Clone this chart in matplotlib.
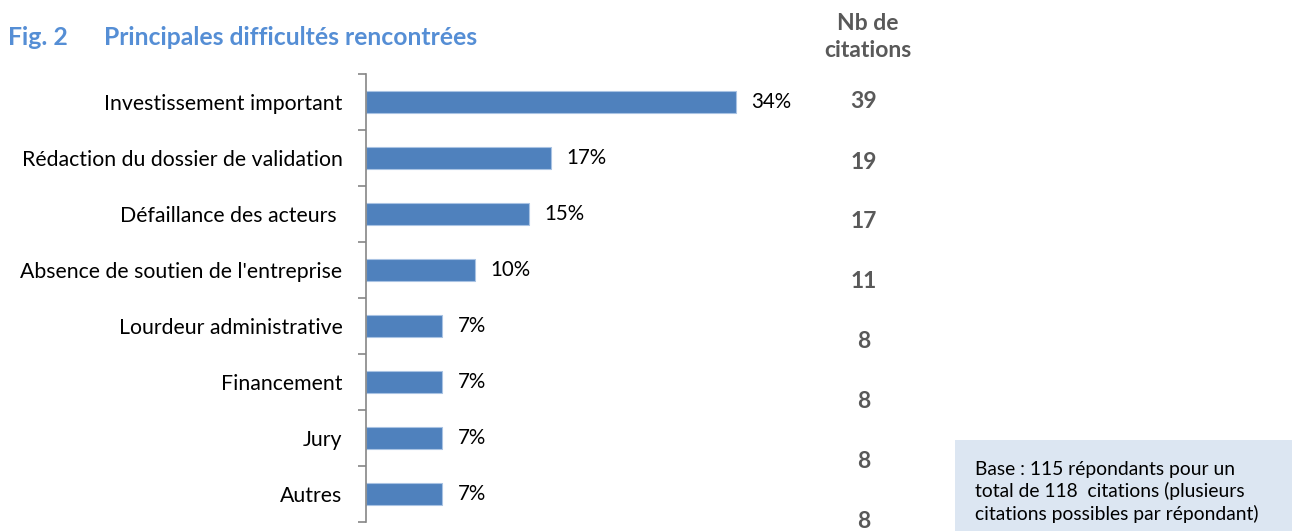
import matplotlib.pyplot as plt
from matplotlib.patches import Rectangle

categories = [
    "Investissement important",
    "Rédaction du dossier de validation",
    "Défaillance des acteurs ",
    "Absence de soutien de l'entreprise",
    "Lourdeur administrative",
    "Financement",
    "Jury",
    "Autres",
]
percent = [34, 17, 15, 10, 7, 7, 7, 7]
citations = [39, 19, 17, 11, 8, 8, 8, 8]

plt.rcParams['font.family'] = ['Lato', 'DejaVu Sans']

W, H = 1292, 531
fig = plt.figure(figsize=(W / 100, H / 100), dpi=100)


def fx(px):
    return px / W


def fy(py):
    return 1 - py / H


ax = fig.add_axes([fx(366), fy(522), fx(910) - fx(366), fy(74) - fy(522)])

n = len(categories)
ypos = list(range(n))
ax.barh(ypos, percent, height=0.39, color="#4F81BD", edgecolor="#A9C3E3", linewidth=0.8)
ax.set_ylim(n - 0.5, -0.5)
ax.set_xlim(0, 50)

for y, v in zip(ypos, percent):
    ax.text(v + 1.4, y, f"{v}%", va="center", ha="left", fontsize=14.8, color="black")

ax.set_yticks([i - 0.5 for i in range(n + 1)])
ax.set_yticklabels([])
ax.set_yticks(ypos, minor=True)
ax.set_yticklabels(categories, minor=True, fontsize=15.3)
ax.tick_params(axis="y", which="minor", length=0, pad=17)
ax.tick_params(axis="y", which="major", length=6, color="#868686", width=1.2)
ax.set_xticks([])
for s in ["top", "right", "bottom"]:
    ax.spines[s].set_visible(False)
ax.spines["left"].set_color("#868686")
ax.spines["left"].set_linewidth(1.2)

# title
fig.text(fx(8), fy(37), "Fig. 2", fontsize=17.8, fontweight="bold", color="#558ED5", va="center")
fig.text(fx(104), fy(37), "Principales difficultés rencontrées", fontsize=17.8,
         fontweight="bold", color="#558ED5", va="center")

# citations column
fig.text(fx(868), fy(37), "Nb de\ncitations", fontsize=16.5, fontweight="bold",
         color="#595959", ha="center", va="center", linespacing=1.3)
for i, c in enumerate(citations):
    fig.text(fx(864), fy(102 + 60 * i), str(c), fontsize=16.5, fontweight="bold",
             color="#595959", ha="center", va="center")

# note box
fig.patches.append(Rectangle((fx(955), 0), 1 - fx(955), fy(440), transform=fig.transFigure,
                             facecolor="#DCE6F2", edgecolor="none"))
fig.text(fx(975), fy(492), "Base : 115 répondants pour un\ntotal de 118  citations (plusieurs\n"
         "citations possibles par répondant)", fontsize=13.9, color="black",
         va="center", ha="left", linespacing=1.3)

fig.savefig("out.png", dpi=100)
